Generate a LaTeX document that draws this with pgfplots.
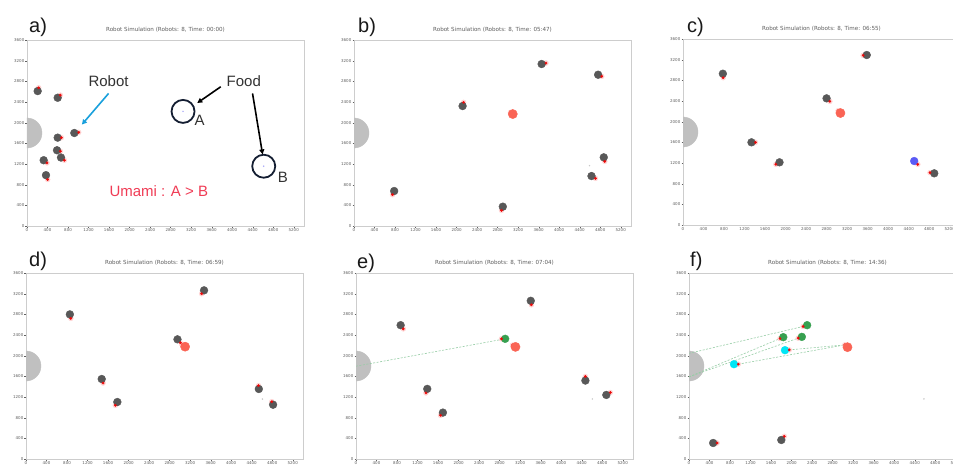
\documentclass[border=0pt]{standalone}
\usepackage{fontspec}
\setmainfont{DejaVu Sans}
\newfontfamily\arial{Liberation Sans}
\usepackage{pgfplots}
\pgfplotsset{compat=1.18}
\usetikzlibrary{arrows.meta}
\definecolor{robotgray}{RGB}{88,88,88}
\definecolor{homegray}{RGB}{192,192,192}
\definecolor{headred}{RGB}{235,10,10}
\definecolor{halo}{RGB}{255,200,200}
\definecolor{foodred}{RGB}{250,100,85}
\definecolor{rgreen}{RGB}{55,160,80}
\definecolor{rcyan}{RGB}{0,230,245}
\definecolor{rblue}{RGB}{90,90,245}
\definecolor{lgreen}{RGB}{150,205,165}
\definecolor{framegray}{RGB}{205,205,205}
\definecolor{ticklab}{RGB}{95,95,95}
\definecolor{navy}{RGB}{20,30,50}
\definecolor{umami}{RGB}{240,60,85}
\definecolor{arrowblue}{RGB}{25,160,220}
\definecolor{foodbdot}{RGB}{200,200,200}
\pgfplotsset{
 sim/.style={
  scale only axis, width=277pt, height=186pt,
  xmin=0,xmax=5400,ymin=0,ymax=3600,
  xtick={0,400,...,5200}, ytick={0,400,...,3600},
  tick label style={font=\fontsize{4}{4}\selectfont, text=ticklab},
  xticklabel style={inner sep=1pt},
  yticklabel style={inner sep=1pt},
  axis line style={framegray, line width=0.8pt},
  tick style={ticklab, line width=0.3pt},
  tick align=outside, major tick length=1.5pt,
  xtick pos=bottom, ytick pos=left,
  scaled ticks=false,
  /pgf/number format/1000 sep={},
  /pgf/number format/assume math mode=true,
  clip marker paths=true,
  title style={font=\fontsize{5.6}{5.6}\selectfont, text=ticklab, at={(0.5,1)}, anchor=south, inner sep=0.8pt, yshift=0.3pt},
 },
 home/.style={only marks, mark=*, mark size=15pt, color=homegray},
 halo/.style={only marks, mark=*, mark size=2.5pt, color=halo, mark options={opacity=0.7}},
 robot/.style={only marks, mark=*, mark size=3.9pt, color=#1},
 robot/.default=robotgray,
 head/.style={only marks, mark=*, mark size=1.2pt, color=headred},
 foodA/.style={only marks, mark=*, mark size=4.6pt, color=foodred},
 foodB/.style={only marks, mark=*, mark size=0.5pt, color=foodbdot},
 trail/.style={lgreen, line width=0.6pt, dash pattern=on 2pt off 1.5pt},
}
\begin{document}
\begin{tikzpicture}[x=1pt,y=1pt]
\useasboundingbox (0,0) rectangle (953,464);
\fill[white] (0,0) rectangle (953,464);
% ---------------- a)
\begin{axis}[sim, at={(27pt,238pt)}, anchor=south west, title={Robot Simulation (Robots: 8, Time: 00:00)}]
\addplot[home] coordinates {(0,1800)};
\addplot[halo] coordinates {(228,2675)(650,2533)(1008,1813)(670,1710)(650,1447)(728,1273)(390,1222)(403,900)};
\addplot[robot] coordinates {(208,2611)(598,2482)(923,1800)(598,1710)(585,1466)(663,1325)(325,1273)(370,984)};
\addplot[head] coordinates {(228,2675)(650,2533)(1008,1813)(670,1710)(650,1447)(728,1273)(390,1222)(403,900)};
\addplot[only marks, mark=o, mark size=11.5pt, color=navy, mark options={line width=1.8pt}] coordinates {(3042,2218)(4615,1157)};
\addplot[only marks, mark=*, mark size=0.5pt, color=rblue!50] coordinates {(3042,2218)(4615,1157)};
\node[font=\arial\fontsize{15}{15}\selectfont, text=black!80] at (axis cs:1590,2810) {Robot};
\draw[-{Triangle[length=5pt,width=5pt]}, arrowblue, line width=1.6pt] (axis cs:1591,2566) -- (axis cs:1070,1963);
\node[font=\arial\fontsize{15}{15}\selectfont, text=black!80] at (axis cs:4227,2810) {Food};
\draw[-{Triangle[length=5pt,width=5pt]}, black, line width=1.6pt] (axis cs:3777,2695) -- (axis cs:3320,2381);
\draw[-{Triangle[length=5pt,width=5pt]}, black, line width=1.6pt] (axis cs:4397,2566) -- (axis cs:4593,1386);
\node[font=\arial\fontsize{15}{15}\selectfont, text=black!80] at (axis cs:3366,2054) {A};
\node[font=\arial\fontsize{15}{15}\selectfont, text=black!80] at (axis cs:4990,949) {B};
\node[font=\arial\fontsize{15}{15}\selectfont, text=umami] at (axis cs:2570,680) {Umami : A > B};
\end{axis}
% ---------------- b)
\begin{axis}[sim, at={(354pt,238pt)}, anchor=south west, title={Robot Simulation (Robots: 8, Time: 05:47)}]
\addplot[home] coordinates {(0,1800)};
\addplot[halo] coordinates {(751,606)(2137,2393)(2875,303)(3743,3154)(4830,2896)(4707,922)(4889,1251)(3050,2199)};
\addplot[robot] coordinates {(783,677)(2117,2322)(2901,374)(3658,3135)(4759,2928)(4630,967)(4869,1329)};
\addplot[head] coordinates {(751,606)(2137,2393)(2875,303)(3743,3154)(4830,2896)(4707,922)(4889,1251)(3050,2199)};
\addplot[foodA] coordinates {(3095,2167)};
\addplot[foodB] coordinates {(4591,1167)};
\end{axis}
% ---------------- c)
\begin{axis}[sim, at={(683pt,239pt)}, anchor=south west, title={Robot Simulation (Robots: 8, Time: 06:55)}]
\addplot[home] coordinates {(0,1800)};
\addplot[halo] coordinates {(783,2851)(1412,1600)(1810,1174)(2863,2393)(3512,3283)(4815,1013)(4577,1174)(3024,2212)};
\addplot[robot] coordinates {(777,2928)(1335,1600)(1881,1213)(2799,2451)(3582,3290)(4898,1000)};
\addplot[robot=rblue] coordinates {(4507,1238)};
\addplot[head] coordinates {(783,2851)(1412,1600)(1810,1174)(2863,2393)(3512,3283)(4815,1013)(4577,1174)(3024,2212)};
\addplot[foodA] coordinates {(3069,2167)};
\end{axis}
% ---------------- d)
\begin{axis}[sim, at={(26pt,5pt)}, anchor=south west, title={Robot Simulation (Robots: 8, Time: 06:59)}]
\addplot[home] coordinates {(0,1800)};
\addplot[halo] coordinates {(874,2722)(1502,1471)(1742,1039)(3030,2230)(3425,3199)(4533,1419)(4792,1109)};
\addplot[robot] coordinates {(855,2799)(1476,1548)(1781,1103)(2953,2316)(3471,3264)(4539,1355)(4817,1051)};
\addplot[head] coordinates {(874,2722)(1502,1471)(1742,1039)(3010,2250)(3050,2215)(3425,3199)(4533,1419)(4792,1109)};
\addplot[foodA] coordinates {(3102,2174)};
\addplot[foodB] coordinates {(4610,1161)};
\end{axis}
% ---------------- e)
\begin{axis}[sim, at={(356pt,5pt)}, anchor=south west, title={Robot Simulation (Robots: 8, Time: 07:04)}]
\addplot[home] coordinates {(0,1800)};
\addplot[trail] coordinates {(0,1796)(2836,2313)};
\addplot[halo] coordinates {(922,2519)(1363,1279)(1648,846)(3420,2985)(4472,1596)(4958,1286)(2836,2326)(3050,2203)};
\addplot[robot] coordinates {(870,2590)(1389,1357)(1694,898)(3407,3062)(4472,1518)(4880,1240)};
\addplot[robot=rgreen] coordinates {(2908,2326)};
\addplot[head] coordinates {(922,2519)(1363,1279)(1648,846)(3420,2985)(4472,1596)(4958,1286)(2836,2326)(3050,2203)};
\addplot[foodA] coordinates {(3109,2170)};
\addplot[foodB] coordinates {(4608,1163)};
\end{axis}
% ---------------- f)
\begin{axis}[sim, at={(689pt,5pt)}, anchor=south west, title={Robot Simulation (Robots: 8, Time: 14:36)}]
\addplot[home] coordinates {(0,1800)};
\addplot[trail] coordinates {(0,2045)(2225,2565)};
\addplot[trail] coordinates {(0,1590)(1774,2332)};
\addplot[trail] coordinates {(0,1590)(2129,2339)};
\addplot[trail] coordinates {(961,1835)(3038,2209)};
\addplot[trail] coordinates {(1954,2112)(3038,2209)};
\addplot[halo] coordinates {(548,310)(1858,439)(2225,2565)(1774,2332)(2129,2339)(1954,2112)(961,1835)(3038,2209)};
\addplot[robot] coordinates {(471,310)(1800,368)};
\addplot[robot=rgreen] coordinates {(2303,2590)(1838,2358)(2200,2364)};
\addplot[robot=rcyan] coordinates {(1871,2106)(877,1835)};
\addplot[head] coordinates {(548,310)(1858,439)(2225,2565)(1774,2332)(2129,2339)(1954,2112)(961,1835)(3038,2209)};
\addplot[foodA] coordinates {(3090,2164)};
\addplot[foodB] coordinates {(4580,1163)};
\end{axis}
% panel labels
\begin{scope}[font=\arial\fontsize{20}{20}\selectfont, text=black!90]
\node[anchor=base west, inner sep=0pt] at (29,431) {a)};
\node[anchor=base west, inner sep=0pt] at (358,431) {b)};
\node[anchor=base west, inner sep=0pt] at (687,431) {c)};
\node[anchor=base west, inner sep=0pt] at (29,197) {d)};
\node[anchor=base west, inner sep=0pt] at (357,196) {e)};
\node[anchor=base west, inner sep=0pt] at (690,197) {f)};
\end{scope}
\end{tikzpicture}
\end{document}
